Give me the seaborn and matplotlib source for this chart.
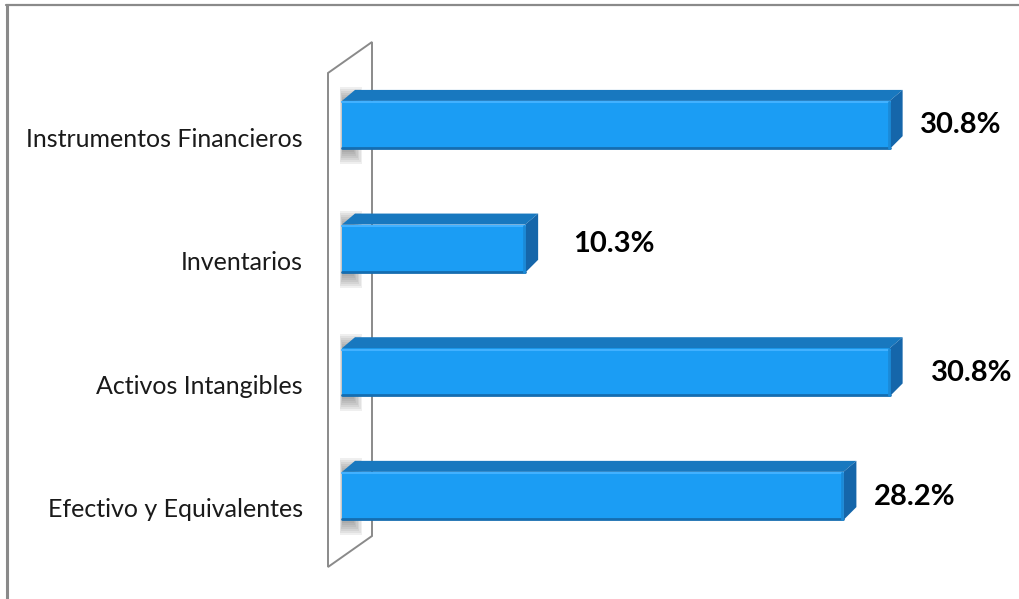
import matplotlib
matplotlib.use("Agg")
import matplotlib.pyplot as plt
import seaborn as sns
import pandas as pd
from matplotlib.patches import Polygon, Rectangle
from matplotlib.lines import Line2D
from matplotlib.transforms import ScaledTranslation

# ---- data ----
categories = ["Instrumentos Financieros", "Inventarios", "Activos Intangibles", "Efectivo y Equivalentes"]
values = [30.8, 10.3, 30.8, 28.2]
value_labels = ["30.8%", "10.3%", "30.8%", "28.2%"]

# ---- style ----
sns.set_style("white")
plt.rcParams["font.family"] = ["Lato", "DejaVu Sans"]

FRONT = "#1b9df4"
TOP = "#1878bf"
SIDE = "#1566aa"
EDGE_DARK = "#156db0"
HILITE = "#42b1ff"

W, H = 1020, 599
fig = plt.figure(figsize=(W / 100, H / 100), dpi=100)
ax = fig.add_axes([342 / W, 1 - 557.8 / H, 668 / W, (557.8 - 63.2) / H])

df = pd.DataFrame({"cat": categories, "val": values})
sns.barplot(data=df, x="val", y="cat", orient="h", color=FRONT, width=0.39,
            saturation=1, ax=ax, zorder=5, edgecolor="none", linewidth=0)

ax.set_xlim(0, 37.57)
ax.set_ylim(3.5, -0.5)
ax.set_xlabel("")
ax.set_ylabel("")
ax.set_xticks([])
for s in ax.spines.values():
    s.set_visible(False)
ax.tick_params(axis="y", length=0, pad=28, labelsize=18, labelcolor="#1a1a1a")
shift = ScaledTranslation(0, -0.12, fig.dpi_scale_trans)
for lab in ax.get_yticklabels():
    lab.set_transform(lab.get_transform() + shift)

fig.canvas.draw()


def add(artist):
    ax.add_artist(artist)
    artist.set_clip_on(False)
    return artist


def px(x, y):
    return (x, H - y)


# ---- wall (left plane) in display pixels ----
add(Polygon([px(328, 73), px(372, 42), px(372, 536), px(328, 567)], closed=True,
            fill=False, edgecolor="#8a8a8a", linewidth=1.4, transform=None, zorder=1))

DX, DY = 13, 11  # depth in pixels (right, up)

bars = [p for p in ax.patches if isinstance(p, Rectangle) and p.get_width() > 0]
for p in bars:
    x0, y0 = p.get_x(), p.get_y()
    x1, y1 = x0 + p.get_width(), y0 + p.get_height()
    (ax0, ya), = ax.transData.transform([(x0, y0)])
    (ax1, yb), = ax.transData.transform([(x1, y1)])
    top_y = max(ya, yb)
    bot_y = min(ya, yb)
    # blurred shadow on the wall
    for k in range(8):
        inset = k * 2.0
        add(Rectangle((ax0 - 2 + inset * 0.2, bot_y - 15 + inset), 22 - inset * 0.9,
                      (top_y + 14) - (bot_y - 15) - 2 * inset,
                      transform=None, facecolor="#666666", alpha=0.1,
                      edgecolor="none", zorder=2))
    # top face
    add(Polygon([(ax0, top_y), (ax1, top_y), (ax1 + DX, top_y + DY), (ax0 + DX, top_y + DY)],
                closed=True, transform=None, facecolor=TOP, edgecolor="none", zorder=6))
    # side face
    add(Polygon([(ax1, top_y), (ax1 + DX, top_y + DY), (ax1 + DX, bot_y + DY + 2), (ax1, bot_y)],
                closed=True, transform=None, facecolor=SIDE, edgecolor="none", zorder=6))
    # highlights on front
    add(Line2D([ax0, ax1], [top_y - 1.5, top_y - 1.5], color=HILITE, lw=1.5,
               transform=None, zorder=7))
    add(Line2D([ax0, ax1], [bot_y + 1, bot_y + 1], color=EDGE_DARK, lw=2,
               transform=None, zorder=7))
    add(Line2D([ax1 - 1, ax1 - 1], [bot_y + 1, top_y - 1], color="#1a8ad8", lw=2,
               transform=None, zorder=7))

# ---- value labels ----
label_dx = [30, 48, 41, 30]
label_dy = [0, 5, -1, -1]
for i, (v, t) in enumerate(zip(values, value_labels)):
    ax.annotate(t, xy=(v, i), xytext=(label_dx[i], label_dy[i]), textcoords="offset pixels",
                ha="left", va="center", fontsize=21, fontweight="bold", color="black",
                annotation_clip=False, zorder=8)

# ---- outer border (partially visible frame) ----
fig.add_artist(Line2D([6, W], [H - 5, H - 5], color="#8a8a8a", lw=1.6, transform=None))
fig.add_artist(Line2D([6.5, 6.5], [0, H - 5], color="#8a8a8a", lw=2.2, transform=None))

fig.savefig("out.png", dpi=100)
